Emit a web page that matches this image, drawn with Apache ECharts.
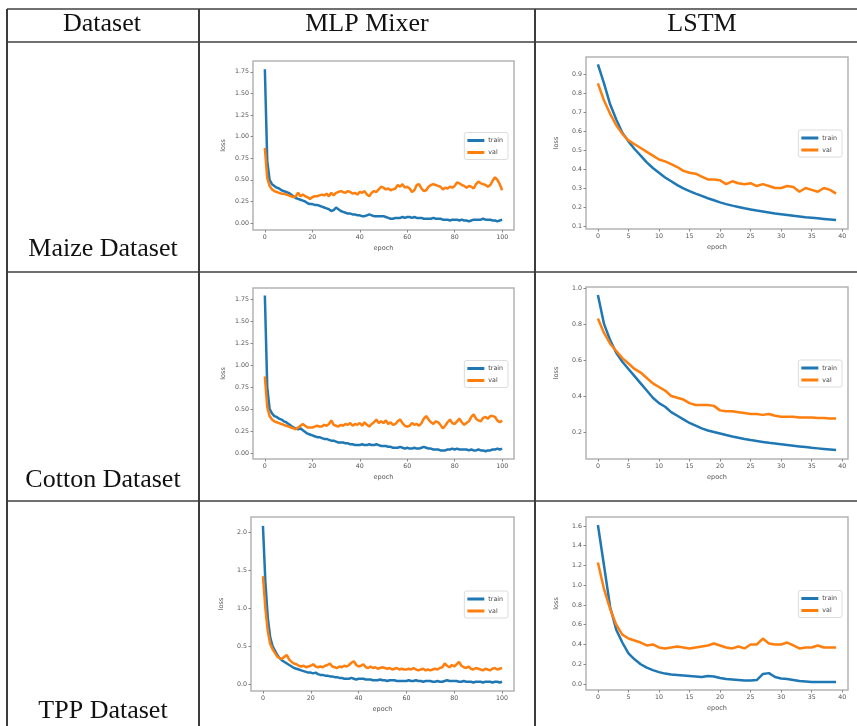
<!DOCTYPE html>
<html>
<head>
<meta charset="utf-8">
<script src="https://cdn.jsdelivr.net/npm/echarts@6/dist/echarts.min.js"></script>
<style>
  html, body { margin: 0; padding: 0; background: #fff; }
  #chart { width: 857px; height: 726px; }
</style>
</head>
<body>
<div id="chart"></div>
<script>
// table text
const headers = ['Dataset', 'MLP Mixer', 'LSTM'];
const datasets = ['Maize Dataset', 'Cotton Dataset', 'TPP Dataset'];
const seriesNames = ['train', 'val'];

// MLP Mixer curves (epochs 0..100)
const maizeMlpTrain = [1.78,0.72,0.50,0.45,0.43,0.41,0.40,0.38,0.37,0.36,
  0.35,0.33,0.31,0.29,0.28,0.27,0.26,0.25,0.23,0.22,
  0.22,0.21,0.21,0.20,0.19,0.18,0.17,0.16,0.14,0.15,
  0.18,0.16,0.14,0.13,0.12,0.11,0.11,0.10,0.10,0.09,
  0.09,0.08,0.08,0.09,0.10,0.09,0.08,0.08,0.08,0.08,
  0.08,0.07,0.06,0.05,0.05,0.06,0.06,0.06,0.07,0.06,
  0.07,0.07,0.06,0.07,0.06,0.06,0.06,0.05,0.05,0.05,
  0.05,0.06,0.05,0.05,0.05,0.04,0.04,0.04,0.03,0.04,
  0.04,0.04,0.03,0.04,0.03,0.03,0.02,0.03,0.04,0.04,
  0.04,0.04,0.05,0.04,0.04,0.04,0.03,0.03,0.02,0.03,0.04];
const maizeMlpVal = [0.87,0.52,0.43,0.39,0.37,0.36,0.35,0.34,0.34,0.33,
  0.32,0.31,0.30,0.31,0.35,0.31,0.33,0.31,0.30,0.28,
  0.30,0.31,0.31,0.32,0.33,0.32,0.34,0.31,0.35,0.32,
  0.35,0.36,0.37,0.36,0.35,0.37,0.36,0.34,0.35,0.33,
  0.36,0.35,0.37,0.33,0.31,0.35,0.37,0.36,0.39,0.42,
  0.41,0.39,0.40,0.38,0.39,0.40,0.44,0.42,0.45,0.41,
  0.42,0.40,0.36,0.38,0.44,0.45,0.40,0.37,0.38,0.42,
  0.44,0.45,0.44,0.43,0.42,0.39,0.41,0.40,0.42,0.41,
  0.43,0.47,0.46,0.44,0.43,0.41,0.43,0.42,0.40,0.45,
  0.48,0.46,0.45,0.44,0.42,0.44,0.49,0.53,0.50,0.45,0.38];
const cottonMlpTrain = [1.79,0.75,0.50,0.45,0.42,0.41,0.39,0.38,0.36,0.35,
  0.33,0.31,0.29,0.28,0.27,0.28,0.26,0.24,0.22,0.21,
  0.20,0.19,0.18,0.18,0.17,0.16,0.16,0.15,0.14,0.14,
  0.13,0.12,0.12,0.12,0.11,0.11,0.10,0.10,0.09,0.09,
  0.09,0.10,0.09,0.09,0.10,0.09,0.09,0.10,0.09,0.08,
  0.08,0.08,0.07,0.07,0.06,0.06,0.06,0.07,0.06,0.05,
  0.06,0.05,0.05,0.06,0.05,0.05,0.06,0.07,0.06,0.05,
  0.05,0.04,0.04,0.04,0.03,0.03,0.03,0.04,0.04,0.05,
  0.04,0.05,0.04,0.04,0.04,0.04,0.03,0.04,0.03,0.03,
  0.04,0.03,0.03,0.02,0.03,0.03,0.04,0.04,0.05,0.04,0.05];
const cottonMlpVal = [0.87,0.52,0.42,0.38,0.36,0.35,0.34,0.33,0.32,0.31,
  0.30,0.29,0.28,0.27,0.29,0.31,0.33,0.31,0.29,0.29,
  0.29,0.30,0.31,0.30,0.30,0.32,0.31,0.33,0.37,0.32,
  0.31,0.30,0.32,0.31,0.33,0.32,0.34,0.31,0.33,0.32,
  0.34,0.31,0.35,0.32,0.30,0.33,0.35,0.38,0.34,0.36,
  0.34,0.37,0.33,0.35,0.32,0.33,0.36,0.38,0.34,0.31,
  0.30,0.31,0.34,0.32,0.33,0.31,0.34,0.39,0.42,0.38,
  0.35,0.33,0.36,0.35,0.32,0.28,0.31,0.35,0.38,0.34,
  0.33,0.36,0.39,0.35,0.32,0.34,0.36,0.41,0.44,0.39,
  0.37,0.36,0.40,0.41,0.39,0.42,0.42,0.41,0.37,0.35,0.37];
const tppMlpTrain = [2.08,1.35,0.88,0.62,0.50,0.44,0.38,0.34,0.31,0.29,
  0.27,0.25,0.23,0.21,0.20,0.19,0.18,0.17,0.16,0.15,
  0.15,0.14,0.15,0.13,0.12,0.12,0.11,0.11,0.10,0.10,
  0.09,0.09,0.08,0.08,0.07,0.07,0.07,0.08,0.07,0.06,
  0.07,0.07,0.07,0.06,0.06,0.06,0.05,0.05,0.05,0.06,
  0.05,0.05,0.04,0.05,0.05,0.05,0.04,0.04,0.04,0.04,
  0.04,0.05,0.04,0.04,0.05,0.04,0.04,0.03,0.04,0.04,
  0.04,0.03,0.03,0.04,0.03,0.03,0.04,0.05,0.04,0.04,
  0.04,0.04,0.03,0.03,0.04,0.03,0.03,0.03,0.02,0.03,
  0.03,0.03,0.02,0.03,0.03,0.03,0.02,0.03,0.03,0.02,0.03];
const tppMlpVal = [1.42,1.00,0.70,0.53,0.46,0.41,0.36,0.34,0.33,0.36,
  0.38,0.32,0.29,0.27,0.26,0.24,0.23,0.24,0.22,0.23,
  0.24,0.26,0.23,0.22,0.23,0.22,0.24,0.25,0.27,0.23,
  0.22,0.21,0.23,0.22,0.24,0.23,0.25,0.28,0.30,0.25,
  0.23,0.24,0.26,0.22,0.21,0.23,0.21,0.22,0.20,0.21,
  0.22,0.21,0.20,0.21,0.19,0.20,0.21,0.19,0.20,0.19,
  0.19,0.20,0.19,0.21,0.19,0.18,0.19,0.20,0.18,0.19,
  0.18,0.19,0.20,0.19,0.21,0.22,0.27,0.24,0.22,0.25,
  0.23,0.26,0.29,0.24,0.22,0.21,0.23,0.20,0.19,0.21,
  0.20,0.19,0.18,0.20,0.19,0.18,0.20,0.21,0.19,0.20,0.21];

// LSTM curves (epochs 0..39)
const maizeLstmTrain = [0.95,0.85,0.74,0.66,0.59,0.545,0.505,0.47,0.435,0.405,
  0.38,0.355,0.335,0.315,0.298,0.283,0.27,0.258,0.246,0.235,
  0.224,0.215,0.207,0.2,0.193,0.187,0.181,0.176,0.171,0.166,
  0.162,0.158,0.154,0.15,0.146,0.143,0.14,0.137,0.134,0.131];
const maizeLstmVal = [0.85,0.76,0.69,0.63,0.585,0.55,0.53,0.51,0.49,0.47,
  0.45,0.44,0.425,0.41,0.39,0.38,0.375,0.36,0.345,0.345,
  0.34,0.32,0.335,0.325,0.32,0.325,0.31,0.32,0.31,0.3,
  0.3,0.31,0.305,0.28,0.3,0.29,0.28,0.3,0.29,0.27];
const cottonLstmTrain = [0.96,0.80,0.71,0.64,0.59,0.55,0.51,0.47,0.43,0.39,
  0.36,0.34,0.31,0.29,0.27,0.25,0.235,0.22,0.208,0.2,
  0.192,0.183,0.175,0.168,0.161,0.155,0.15,0.145,0.14,0.136,
  0.132,0.128,0.124,0.12,0.116,0.112,0.109,0.106,0.103,0.1];
const cottonLstmVal = [0.83,0.75,0.69,0.65,0.61,0.58,0.55,0.53,0.50,0.47,
  0.45,0.43,0.40,0.39,0.38,0.36,0.35,0.35,0.35,0.345,
  0.32,0.315,0.315,0.31,0.305,0.30,0.30,0.295,0.30,0.29,
  0.285,0.285,0.285,0.28,0.28,0.28,0.277,0.277,0.275,0.275];
const tppLstmTrain = [1.61,1.2,0.78,0.55,0.42,0.31,0.25,0.2,0.165,0.14,
  0.12,0.105,0.095,0.09,0.085,0.08,0.075,0.07,0.08,0.075,
  0.06,0.05,0.045,0.04,0.035,0.035,0.04,0.1,0.11,0.07,
  0.055,0.05,0.04,0.03,0.025,0.02,0.02,0.02,0.02,0.02];
const tppLstmVal = [1.23,0.96,0.76,0.6,0.5,0.46,0.44,0.42,0.39,0.4,
  0.37,0.36,0.37,0.38,0.37,0.36,0.37,0.38,0.39,0.41,
  0.39,0.37,0.36,0.38,0.36,0.4,0.4,0.46,0.41,0.4,
  0.4,0.42,0.39,0.36,0.37,0.37,0.39,0.37,0.37,0.37];

// tick labels
const mlpXTicks = [0, 20, 40, 60, 80, 100];
const lstmXTicks = [0, 5, 10, 15, 20, 25, 30, 35, 40];
const mlpQuarterTicks = [0, 0.25, 0.5, 0.75, 1.0, 1.25, 1.5, 1.75];
const maizeLstmYTicks = [0.1, 0.2, 0.3, 0.4, 0.5, 0.6, 0.7, 0.8, 0.9];
const cottonLstmYTicks = [0.2, 0.4, 0.6, 0.8, 1.0];
const tppMlpYTicks = [0, 0.5, 1.0, 1.5, 2.0];
const tppLstmYTicks = [0, 0.2, 0.4, 0.6, 0.8, 1.0, 1.2, 1.4, 1.6];

const BLUE = '#1f77b4';
const ORANGE = '#ff7f0e';
const W = 857;

// one entry per small plot: where it sits and its axis range
const panels = [
  { rect: [253, 61, 261, 169], train: maizeMlpTrain, val: maizeMlpVal, x: [-5, 105], xt: mlpXTicks, y: [-0.08, 1.875], yt: mlpQuarterTicks, dec: 2 },
  { rect: [586, 57, 262, 172], train: maizeLstmTrain, val: maizeLstmVal, x: [-1.95, 40.95], xt: lstmXTicks, y: [0.084, 0.989], yt: maizeLstmYTicks, dec: 1 },
  { rect: [253, 288, 261, 171], train: cottonMlpTrain, val: cottonMlpVal, x: [-5, 105], xt: mlpXTicks, y: [-0.068, 1.875], yt: mlpQuarterTicks, dec: 2 },
  { rect: [586, 287, 262, 172], train: cottonLstmTrain, val: cottonLstmVal, x: [-1.95, 40.95], xt: lstmXTicks, y: [0.05, 1.005], yt: cottonLstmYTicks, dec: 1 },
  { rect: [251, 517, 263, 174], train: tppMlpTrain, val: tppMlpVal, x: [-5, 105], xt: mlpXTicks, y: [-0.092, 2.197], yt: tppMlpYTicks, dec: 1 },
  { rect: [586, 517, 262, 173], train: tppLstmTrain, val: tppLstmVal, x: [-1.95, 40.95], xt: lstmXTicks, y: [-0.061, 1.691], yt: tppLstmYTicks, dec: 1 }
];

const tickFont = { fontFamily: 'DejaVu Sans', fontSize: 6.3, color: '#555' };

const grid = [], xAxis = [], yAxis = [], series = [], legend = [];
panels.forEach((p, i) => {
  const [l, t, w, h] = p.rect;
  grid.push({
    left: l, top: t, width: w, height: h,
    show: true, borderColor: '#b4b4b4', borderWidth: 1.5, backgroundColor: '#fff',
    outerBoundsMode: 'none'
  });
  xAxis.push({
    type: 'value', gridIndex: i, min: p.x[0], max: p.x[1], position: 'bottom',
    name: 'epoch', nameLocation: 'middle', nameGap: 15,
    nameTextStyle: Object.assign({}, tickFont, { fontSize: 6.5 }),
    axisLine: { show: false, onZero: false },
    axisTick: { show: true, length: 2.5, lineStyle: { color: '#888' }, customValues: p.xt },
    axisLabel: Object.assign({ margin: 4, customValues: p.xt, formatter: v => String(v) }, tickFont),
    splitLine: { show: false }
  });
  yAxis.push({
    type: 'value', gridIndex: i, min: p.y[0], max: p.y[1], position: 'left',
    name: 'loss', nameLocation: 'middle', nameGap: 26, nameRotate: 90,
    nameTextStyle: Object.assign({}, tickFont, { fontSize: 6.5 }),
    axisLine: { show: false, onZero: false },
    axisTick: { show: true, length: 2.5, lineStyle: { color: '#888' }, customValues: p.yt },
    axisLabel: Object.assign({ margin: 4, customValues: p.yt, formatter: v => v.toFixed(p.dec) }, tickFont),
    splitLine: { show: false }
  });
  [[p.train, BLUE, seriesNames[0]], [p.val, ORANGE, seriesNames[1]]].forEach(([vals, color, name]) => {
    series.push({
      name: name, type: 'line', xAxisIndex: i, yAxisIndex: i,
      data: vals.map((v, k) => [k, v]),
      showSymbol: false, symbol: 'none',
      lineStyle: { color: color, width: 2.5 },
      itemStyle: { color: color },
      z: name === 'train' ? 3 : 4
    });
  });
  legend.push({
    data: seriesNames, orient: 'vertical', selectedMode: false,
    right: W - (l + w) + 6, top: t + h / 2 - 13,
    icon: 'rect', itemWidth: 17, itemHeight: 3, itemGap: 6,
    padding: [5, 5, 4, 3], borderColor: '#dcdcdc', borderWidth: 1, borderRadius: 2,
    backgroundColor: '#fff',
    textStyle: { fontFamily: 'DejaVu Sans', fontSize: 6.3, color: '#444', padding: [0, 0, 0, -1] }
  });
});

// table rules and cell text
const lineH = '#707070', lineV = '#3c3c3c';
const hLines = [9, 42, 272, 501];
const vLines = [7, 199, 535];
const graphic = [];
hLines.forEach(y => graphic.push({
  type: 'line', shape: { x1: 7, y1: y, x2: W, y2: y },
  style: { stroke: lineH, lineWidth: 2 }, silent: true
}));
vLines.forEach(x => graphic.push({
  type: 'line', shape: { x1: x, y1: 9, x2: x, y2: 726 },
  style: { stroke: lineV, lineWidth: 2 }, silent: true
}));
const serif = { fontFamily: 'Liberation Serif', fontSize: 26, fill: '#111', align: 'center', verticalAlign: 'middle' };
const headerX = [102, 367, 702];
headers.forEach((txt, i) => graphic.push({
  type: 'text', x: headerX[i], y: 24, style: Object.assign({ text: txt }, serif), silent: true
}));
const rowLabelY = [249, 480, 711];
datasets.forEach((txt, i) => graphic.push({
  type: 'text', x: 103, y: rowLabelY[i], style: Object.assign({ text: txt }, serif), silent: true
}));

const chart = echarts.init(document.getElementById('chart'), null, { renderer: 'canvas' });
chart.setOption({
  backgroundColor: '#fff',
  animation: false,
  grid, xAxis, yAxis, series, legend, graphic
});
</script>
</body>
</html>
